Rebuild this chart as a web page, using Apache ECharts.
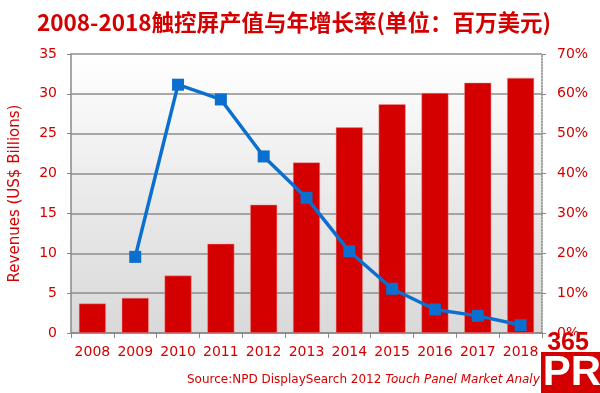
<!DOCTYPE html>
<html>
<head>
<meta charset="utf-8">
<script src="https://cdn.jsdelivr.net/npm/echarts@6/dist/echarts.min.js"></script>
<style>html,body{margin:0;padding:0;background:#fff}#c{width:600px;height:393px}</style>
</head>
<body>
<div id="c"></div>
<script>
const years = ['2008','2009','2010','2011','2012','2013','2014','2015','2016','2017','2018'];
const revenues = [3.7, 4.4, 7.2, 11.2, 16.1, 21.4, 25.8, 28.7, 30.1, 31.4, 32.0];
const growth = [null, 19.1, 62.3, 58.6, 44.3, 33.9, 20.5, 11.1, 5.9, 4.3, 2.0];
const leftTicks = [0, 5, 10, 15, 20, 25, 30, 35];
const rightTicks = [0, 10, 20, 30, 40, 50, 60, 70];

const RED = '#d40000';
const chart = echarts.init(document.getElementById('c'));
chart.setOption({
  animation: false,
  title: {
    text: '2008-2018触控屏产值与年增长率(单位：百万美元)',
    left: 32, top: 6,
    textStyle: {color: RED, fontSize: 22.5, fontWeight: 'bold', fontFamily: '"Noto Sans CJK SC", sans-serif'}
  },
  grid: {
    left: 69, right: 58, top: 54, bottom: 60,
    show: true, borderWidth: 0,
    backgroundColor: new echarts.graphic.LinearGradient(0, 0, 0, 1, [
      {offset: 0, color: '#ffffff'},
      {offset: 0.2, color: '#f7f7f7'},
      {offset: 0.55, color: '#e8e8e8'},
      {offset: 1, color: '#d9d9d9'}
    ])
  },
  xAxis: {
    type: 'category', data: years,
    axisLine: {lineStyle: {color: '#888', width: 1.5}},
    axisTick: {show: true, length: 5, lineStyle: {color: '#888'}},
    axisLabel: {color: RED, fontSize: 14, fontFamily: 'DejaVu Sans', margin: 12, interval: 0}
  },
  yAxis: [{
    type: 'value', min: 0, max: 35, interval: 5,
    name: 'Revenues (US$ Billions)', nameLocation: 'middle', nameGap: 48,
    nameTextStyle: {color: RED, fontSize: 15, fontFamily: 'DejaVu Sans'},
    axisLine: {show: true, lineStyle: {color: '#888', width: 1.5}},
    axisTick: {show: true, length: 4, lineStyle: {color: '#888'}},
    axisLabel: {color: RED, fontSize: 14, fontFamily: 'DejaVu Sans', margin: 14,
      formatter: v => leftTicks.includes(v) ? String(v) : ''},
    splitLine: {show: true, lineStyle: {color: '#8c8c8c', width: 1.5}}
  }, {
    type: 'value', min: 0, max: 70, interval: 10,
    axisLine: {show: true, lineStyle: {color: '#888', width: 1.5, type: 'dotted'}},
    axisTick: {show: true, length: 4, lineStyle: {color: '#888'}},
    axisLabel: {color: RED, fontSize: 14, fontFamily: 'DejaVu Sans', margin: 15,
      formatter: v => rightTicks.includes(v) ? v + '%' : ''},
    splitLine: {show: false}
  }],
  series: [{
    type: 'bar', data: revenues, yAxisIndex: 0, barWidth: 27,
    itemStyle: {color: RED, borderColor: '#e99', borderWidth: 0.5}
  }, {
    type: 'line', data: growth, yAxisIndex: 1,
    symbol: 'rect', symbolSize: 12,
    lineStyle: {color: '#0a6fcf', width: 3.5},
    itemStyle: {color: '#0a6fcf'}
  }],
  graphic: [{
    type: 'text', left: 187, top: 374, z: 10,
    style: {
      text: '{n|Source:NPD DisplaySearch 2012 }{i|Touch Panel Market Analy}',
      rich: {
        n: {fill: RED, fontSize: 12, fontFamily: 'DejaVu Sans'},
        i: {fill: RED, fontSize: 12, fontFamily: 'DejaVu Sans', fontStyle: 'italic'}
      }
    }
  }, {
    type: 'rect', z: 20, shape: {x: 541, y: 352, width: 59, height: 41},
    style: {fill: RED}
  }, {
    type: 'text', z: 21, x: 572, y: 373,
    style: {text: 'PR', fill: '#fff', fontSize: 42, fontWeight: 'bold', fontFamily: 'Liberation Sans',
      align: 'center', verticalAlign: 'middle'}
  }, {
    type: 'rect', z: 20, shape: {x: 547, y: 335, width: 44, height: 17},
    style: {fill: '#fff'}
  }, {
    type: 'text', z: 21, x: 568, y: 343,
    style: {text: '365', fill: RED, fontSize: 25, fontWeight: 'bold', fontFamily: 'Liberation Sans',
      align: 'center', verticalAlign: 'middle'}
  }]
});
</script>
</body>
</html>
